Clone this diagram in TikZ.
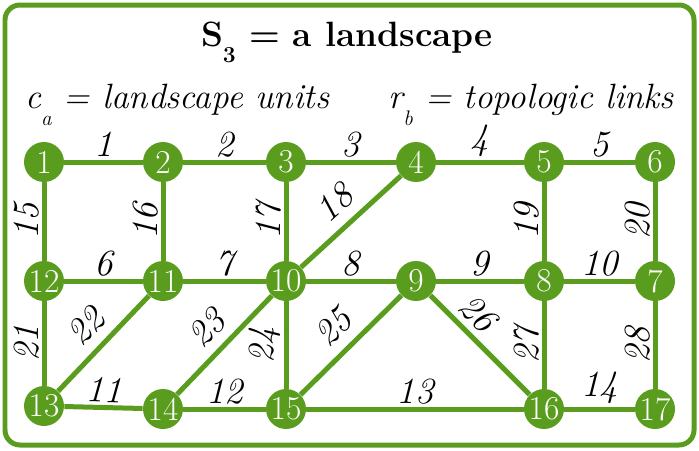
\documentclass[tikz,border=0pt]{standalone}
\usepackage{amsmath,amssymb}
\usepackage{xcolor}
\usetikzlibrary{positioning}
\definecolor{landgreen}{RGB}{90,157,30}

\begin{document}
\begin{tikzpicture}[x=0.02cm, y=-0.02cm,
			unit/.style={circle, fill=landgreen, text=white, minimum size=0.8cm, inner sep=0pt, font=\fontsize{19}{19}\selectfont},
			link/.style={draw=landgreen, line width=0.1cm},
			lab/.style={font=\fontsize{21}{21}\selectfont\itshape, inner sep=1.5pt, text=black}]
			
			\useasboundingbox (0,0) rectangle (699,450);
			\draw[landgreen, line width=0.1cm, rounded corners=0.3cm] (5,5) rectangle (694,445);
			
			\node (title) at (347,42) {\fontsize{20}{21}\selectfont\bfseries S\raisebox{-0.45em}{\fontsize{13}{13}\selectfont 3} = a landscape};
			\node[anchor=base west] (units) at (19,108) {\fontsize{20}{20}\selectfont\itshape c\raisebox{-0.5em}{\fontsize{12}{12}\selectfont a} = landscape units};
			\node[anchor=base east] (links) at (680,108) {\fontsize{20}{20}\selectfont\itshape r\raisebox{-0.5em}{\fontsize{12}{12}\selectfont b} = topologic links};
			
			\node[unit] (n1) at (44,162) {1};
			\node[unit] (n2) at (163,162) {2};
			\node[unit] (n3) at (286,162) {3};
			\node[unit] (n4) at (416,162) {4};
			\node[unit] (n5) at (544,162) {5};
			\node[unit] (n6) at (655,162) {6};
			\node[unit] (n12) at (44,281) {12};
			\node[unit] (n11) at (163,281) {11};
			\node[unit] (n10) at (286,281) {10};
			\node[unit] (n9) at (416,281) {9};
			\node[unit] (n8) at (544,281) {8};
			\node[unit] (n7) at (655,281) {7};
			\node[unit] (n13) at (44,406) {13};
			\node[unit] (n14) at (163,409) {14};
			\node[unit] (n15) at (286,409) {15};
			\node[unit] (n16) at (544,409) {16};
			\node[unit] (n17) at (655,409) {17};
			
			\draw[link] (n1) -- node[lab, above, sloped] {1} (n2);
			\draw[link] (n2) -- node[lab, above, sloped] {2} (n3);
			\draw[link] (n3) -- node[lab, above, sloped] {3} (n4);
			\draw[link] (n4) -- node[lab, above, sloped] {4} (n5);
			\draw[link] (n5) -- node[lab, above, sloped] {5} (n6);
			\draw[link] (n12) -- node[lab, above, sloped] {6} (n11);
			\draw[link] (n11) -- node[lab, above, sloped] {7} (n10);
			\draw[link] (n10) -- node[lab, above, sloped] {8} (n9);
			\draw[link] (n9) -- node[lab, above, sloped] {9} (n8);
			\draw[link] (n8) -- node[lab, above, sloped] {10} (n7);
			\draw[link] (n13) -- node[lab, above, sloped] {11} (n14);
			\draw[link] (n14) -- node[lab, above, sloped] {12} (n15);
			\draw[link] (n15) -- node[lab, above, sloped] {13} (n16);
			\draw[link] (n16) -- node[lab, above, sloped] {14} (n17);
			\draw[link] (n12) -- node[lab, above, sloped] {15} (n1);
			\draw[link] (n11) -- node[lab, above, sloped] {16} (n2);
			\draw[link] (n10) -- node[lab, above, sloped] {17} (n3);
			\draw[link] (n10) -- node[lab, above=4pt, sloped] {18} (n4);
			\draw[link] (n8) -- node[lab, above, sloped] {19} (n5);
			\draw[link] (n7) -- node[lab, above, sloped] {20} (n6);
			\draw[link] (n13) -- node[lab, above, sloped] {21} (n12);
			\draw[link] (n13) -- node[lab, above=4pt, sloped] {22} (n11);
			\draw[link] (n14) -- node[lab, above=4pt, sloped] {23} (n10);
			\draw[link] (n15) -- node[lab, above, sloped] {24} (n10);
			\draw[link] (n15) -- node[lab, above=4pt, sloped] {25} (n9);
			\draw[link] (n9) -- node[lab, above=2pt, sloped, pos=0.33] {26} (n16);
			\draw[link] (n16) -- node[lab, above, sloped] {27} (n8);
			\draw[link] (n17) -- node[lab, above, sloped] {28} (n7);
			
		\end{tikzpicture}
\end{document}
